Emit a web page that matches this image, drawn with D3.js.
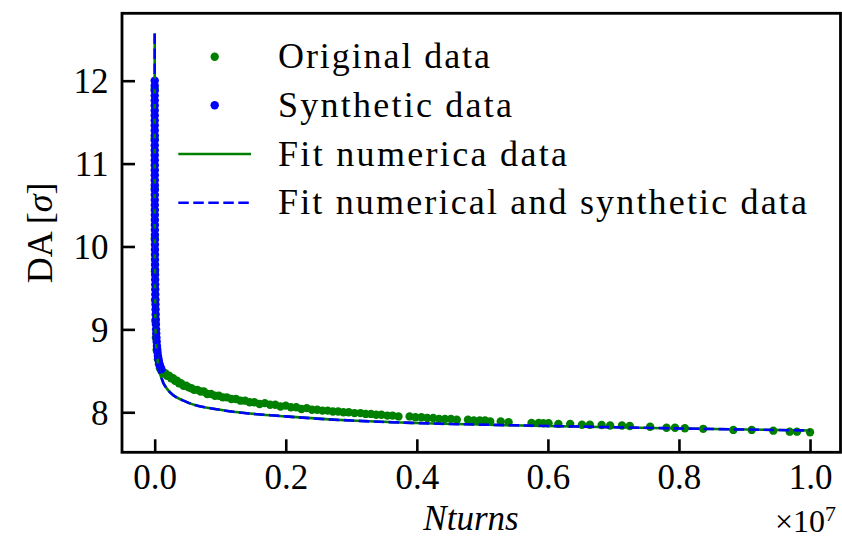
<!DOCTYPE html>
<html>
<head>
<meta charset="utf-8">
<script src="https://cdn.jsdelivr.net/npm/d3@7"></script>
<style>
  body { margin: 0; background: #fff; }
  svg { display: block; }
  text { font-family: "Liberation Serif", "Times New Roman", serif; fill: #000; }
</style>
</head>
<body>
<svg id="chart" width="842" height="539"></svg>
<script>
// Tracked (original) data: number of turns and dynamic aperture in sigma
const origTurns = [
  400, 700, 1200, 2000, 3500, 6000, 10000, 18000, 30000, 50000, 65000,
  80000, 100000, 120000, 140000, 160000, 190000, 220000, 250000, 280000, 310000,
  340000, 370000, 400000, 440000, 480000, 520000, 560000, 600000, 650000, 700000,
  750000, 800000, 860000, 920000, 980000, 1040000, 1100000, 1170000, 1240000, 1310000,
  1380000, 1450000, 1520000, 1600000, 1680000, 1760000, 1840000, 1920000, 2000000, 2080000,
  2160000, 2240000, 2320000, 2400000, 2480000, 2560000, 2640000, 2720000, 2800000, 2880000,
  2960000, 3050000, 3140000, 3220000, 3300000, 3380000, 3460000, 3550000, 3630000, 3720000,
  3890000, 3980000, 4070000, 4160000, 4250000, 4340000, 4430000, 4520000, 4610000,
  4780000, 4870000, 4960000, 5040000, 5120000, 5280000, 5400000, 5750000, 5860000,
  5930000, 6010000, 6160000, 6340000, 6520000, 6640000, 6820000, 6950000, 7130000, 7250000,
  7560000, 7810000, 7940000, 8090000, 8370000, 8830000, 9110000, 9440000, 9690000, 9800000,
  10000000
];
const origDA = [
  11.9, 11.3, 10.7, 10.1, 9.7, 9.35, 9.1, 8.9, 8.75, 8.64, 8.58,
  8.53, 8.50, 8.49, 8.47, 8.47, 8.44, 8.44, 8.41, 8.41, 8.38,
  8.38, 8.35, 8.35, 8.32, 8.32, 8.30, 8.29, 8.27, 8.27, 8.25,
  8.25, 8.22, 8.22, 8.20, 8.20, 8.18, 8.18, 8.16, 8.16, 8.14,
  8.14, 8.12, 8.12, 8.10, 8.11, 8.09, 8.09, 8.07, 8.08, 8.06,
  8.06, 8.04, 8.05, 8.03, 8.03, 8.02, 8.02, 8.01, 8.01, 8.00,
  8.00, 7.99, 7.99, 7.98, 7.98, 7.97, 7.97, 7.96, 7.96, 7.95,
  7.95, 7.94, 7.94, 7.93, 7.93, 7.92, 7.92, 7.92, 7.91,
  7.91, 7.90, 7.90, 7.90, 7.89, 7.89, 7.88, 7.87, 7.87,
  7.867, 7.867, 7.86, 7.86, 7.85, 7.85, 7.847, 7.84, 7.84, 7.835,
  7.826, 7.814, 7.814, 7.807, 7.80, 7.787, 7.787, 7.778, 7.766, 7.766,
  7.759
];

// Synthetic data at short times
const synthTurns = [
  300, 320, 350, 380, 400, 430, 470, 500, 540, 580,
  620, 670, 720, 780, 840, 900, 980, 1050, 1130, 1220,
  1320, 1420, 1530, 1650, 1780, 1920, 2070, 2240, 2420, 2620,
  2840, 3080, 3350, 3650, 3980, 4350, 4760, 5220, 5730, 6300,
  6950, 7680, 8500, 9400, 10500, 11700, 13100, 14700, 16500, 18600,
  21000, 23500, 26500, 30000, 34000, 38500, 43500, 49000, 55000, 62000,
  70000, 80000, 90000, 102000
];
const synthDA = [
  12.00, 11.94, 11.88, 11.82, 11.76, 11.70, 11.64, 11.58, 11.52, 11.46,
  11.40, 11.34, 11.28, 11.22, 11.16, 11.10, 11.04, 10.98, 10.92, 10.86,
  10.80, 10.74, 10.68, 10.62, 10.56, 10.50, 10.44, 10.38, 10.32, 10.26,
  10.20, 10.14, 10.08, 10.02, 9.96, 9.90, 9.84, 9.78, 9.72, 9.66,
  9.60, 9.54, 9.48, 9.42, 9.36, 9.30, 9.24, 9.18, 9.12, 9.06,
  9.00, 8.95, 8.90, 8.85, 8.80, 8.76, 8.72, 8.68, 8.65, 8.62,
  8.59, 8.56, 8.54, 8.52
];

// Fitted curves
const fitTurns = [
  205, 290, 500, 1000, 2000, 5000, 10000, 20000, 50000, 100000,
  200000, 500000, 1000000, 2000000, 3000000, 4000000, 6000000, 8000000, 10000000
];
const fitOrigDA = [
  12.57, 12.0, 11.26, 10.52, 9.97, 9.43, 9.11, 8.86, 8.59, 8.42,
  8.27, 8.12, 8.03, 7.95, 7.90, 7.87, 7.835, 7.805, 7.78
];
const fitAllDA = [
  12.57, 12.0, 11.26, 10.52, 9.97, 9.43, 9.11, 8.86, 8.59, 8.42,
  8.27, 8.12, 8.03, 7.95, 7.90, 7.87, 7.835, 7.805, 7.78
];

const xTickValues = [0, 2e6, 4e6, 6e6, 8e6, 1e7];
const xTickLabels = ["0.0", "0.2", "0.4", "0.6", "0.8", "1.0"];
const yTickValues = [8, 9, 10, 11, 12];
const legendLabels = ["Original data", "Synthetic data", "Fit numerica data", "Fit numerical and synthetic data"];

const GREEN = "#008000", BLUE = "#0000ff";
const svg = d3.select("#chart");
const plot = { left: 122, right: 840.5, top: 13.3, bottom: 452.3 };

const x = d3.scaleLinear().domain([-0.0499e7, 1.0465e7]).range([plot.left, plot.right]);
const y = d3.scaleLinear().domain([7.517, 12.813]).range([plot.bottom, plot.top]);

svg.append("defs").append("clipPath").attr("id", "clip")
  .append("rect").attr("x", plot.left).attr("y", plot.top)
  .attr("width", plot.right - plot.left).attr("height", plot.bottom - plot.top);

const g = svg.append("g").attr("clip-path", "url(#clip)");
const R = 4.2;

const orig = origTurns.map((t, i) => [t, origDA[i]]);
const synth = synthTurns.map((t, i) => [t, synthDA[i]]);

g.append("g").selectAll("circle").data(orig).join("circle")
  .attr("cx", d => x(d[0])).attr("cy", d => y(d[1])).attr("r", R).attr("fill", GREEN);
g.append("g").selectAll("circle").data(synth).join("circle")
  .attr("cx", d => x(d[0])).attr("cy", d => y(d[1])).attr("r", R).attr("fill", BLUE);

const line = d3.line().x(d => x(d[0])).y(d => y(d[1])).curve(d3.curveMonotoneX);
g.append("path").datum(fitTurns.map((t, i) => [t, fitOrigDA[i]]))
  .attr("d", line).attr("fill", "none").attr("stroke", GREEN).attr("stroke-width", 2.6);
g.append("path").datum(fitTurns.map((t, i) => [t, fitAllDA[i]]))
  .attr("d", line).attr("fill", "none").attr("stroke", BLUE).attr("stroke-width", 2.6)
  .attr("stroke-dasharray", "10.5 4.5");

// Axes: inward ticks on left and bottom
const xAxis = d3.axisBottom(x).tickValues(xTickValues)
  .tickFormat((d, i) => xTickLabels[i]).tickSizeInner(-13).tickSizeOuter(0).tickPadding(26);
const yAxis = d3.axisLeft(y).tickValues(yTickValues)
  .tickFormat(d3.format("d")).tickSizeInner(-13).tickSizeOuter(0).tickPadding(26);

const gx = svg.append("g").attr("transform", `translate(0,${plot.bottom})`).call(xAxis);
const gy = svg.append("g").attr("transform", `translate(${plot.left},0)`).call(yAxis);
[gx, gy].forEach(a => {
  a.select(".domain").remove();
  a.selectAll(".tick line").attr("stroke", "#000").attr("stroke-width", 2.6);
  a.selectAll(".tick text").attr("font-size", 35).attr("font-family", "Liberation Serif").attr("fill", "#000");
});
gx.selectAll(".tick text").attr("dy", "0.71em").attr("y", 12);
gy.selectAll(".tick text").attr("x", -13.5).attr("dy", "0.34em");

svg.append("rect").attr("x", plot.left).attr("y", plot.top)
  .attr("width", plot.right - plot.left).attr("height", plot.bottom - plot.top)
  .attr("fill", "none").attr("stroke", "#000").attr("stroke-width", 2.8);

// Axis labels
svg.append("text").attr("x", 471).attr("y", 530).attr("text-anchor", "middle")
  .attr("font-size", 35).attr("font-style", "italic").text("Nturns");
const off = svg.append("text").attr("x", 836).attr("y", 532).attr("text-anchor", "end").attr("font-size", 32);
off.append("tspan").text("×10");
off.append("tspan").attr("dy", -11).attr("font-size", 22).text("7");

const yl = svg.append("text").attr("transform", `translate(52,${(plot.top + plot.bottom) / 2}) rotate(-90)`)
  .attr("text-anchor", "middle").attr("font-size", 36);
yl.append("tspan").text("DA [");
yl.append("tspan").attr("font-style", "italic").text("σ");
yl.append("tspan").text("]");

// Legend
const legendX = { lineStart: 178.3, lineEnd: 251, marker: 214.7, text: 278 };
const legendRows = [56.7, 105.3, 154, 202.7];
const legendWidths = [212, 234, 289, 529];
const leg = svg.append("g");
legendLabels.forEach((lab, i) => {
  const ry = legendRows[i];
  if (i === 0 || i === 1) {
    leg.append("circle").attr("cx", legendX.marker).attr("cy", ry).attr("r", R)
      .attr("fill", i === 0 ? GREEN : BLUE);
  } else {
    leg.append("line").attr("x1", legendX.lineStart).attr("x2", legendX.lineEnd)
      .attr("y1", ry).attr("y2", ry).attr("stroke-width", 2.6)
      .attr("stroke", i === 2 ? GREEN : BLUE)
      .attr("stroke-dasharray", i === 3 ? "10.5 4.5" : null);
  }
  leg.append("text").attr("x", legendX.text).attr("y", ry + 11.5).attr("font-size", 36)
    .attr("textLength", legendWidths[i]).attr("lengthAdjust", "spacing").text(lab);
});
</script>
</body>
</html>
